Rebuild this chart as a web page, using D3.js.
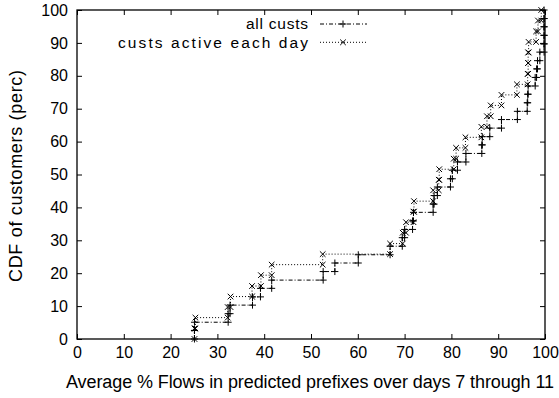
<!DOCTYPE html>
<html>
<head>
<meta charset="utf-8">
<script src="https://cdn.jsdelivr.net/npm/d3@7"></script>
<style>
  body { margin: 0; background: #fff; }
  text { font-family: "Liberation Sans", Arial, Helvetica, sans-serif; }
</style>
</head>
<body>
<script>
// x values of each CDF step
const xAll = [25.1, 25.1, 32.3, 32.7, 37.5, 39.2, 41.6, 52.6, 55.1, 60.1, 66.9, 69.5, 70.0, 71.7, 71.9,
    76.1, 76.3, 77.0, 79.8, 80.2, 81.3, 83.1, 86.5, 86.6, 88.2, 90.7, 94.1, 96.2, 96.3, 96.4,
    97.9, 98.2, 98.4, 98.9, 99.8, 99.8, 99.8, 99.8, 99.8];
const yAll = [2.6, 5.1, 7.7, 10.3, 12.8, 15.4, 17.9, 20.5, 23.1, 25.6, 28.2, 30.8, 33.3, 35.9, 38.5,
    41.0, 43.6, 46.2, 48.7, 51.3, 53.8, 56.4, 59.0, 61.5, 64.1, 66.7, 69.2, 71.8, 74.4, 76.9,
    79.5, 82.1, 84.6, 87.2, 89.7, 92.3, 94.9, 97.4, 100];

const xActive = [25.1, 25.3, 32.2, 32.8, 37.4, 39.3, 41.6, 52.5, 66.9, 69.6, 70.3, 71.9, 72.0, 76.1, 77.3,
    77.4, 80.5, 81.0, 83.0, 86.4, 87.6, 88.4, 90.7, 94.0, 96.3, 96.4, 96.4, 96.5, 98.1, 98.5, 99.2];
const yActive = [3.2, 6.5, 9.7, 12.9, 16.1, 19.4, 22.6, 25.8, 29.0, 32.3, 35.5, 38.7, 41.9, 45.2, 48.4,
    51.6, 54.8, 58.1, 61.3, 64.5, 67.7, 71.0, 74.2, 77.4, 80.6, 83.9, 87.1, 90.3, 93.5, 96.8, 100];

const ticks = [0, 10, 20, 30, 40, 50, 60, 70, 80, 90, 100];
const seriesNames = ['all custs', 'custs active each day'];

const width = 559, height = 398;
const margin = {left: 77, right: 14, top: 10, bottom: 59};
const fontSize = 16;
const labelSize = 18;
const legendSize = 15.5;

const svg = d3.select('body').append('svg')
    .attr('width', width)
    .attr('height', height);

const x = d3.scaleLinear().domain([0, 100]).range([margin.left, width - margin.right]);
const y = d3.scaleLinear().domain([0, 100]).range([height - margin.bottom, margin.top]);

// 每一级台阶：先水平到下一个 x，再竖直上去
function stepPoints(xs, ys) {
    const pts = [[xs[0], 0]];
    for (let i = 0; i < xs.length; i++) {
        if (i > 0) pts.push([xs[i], ys[i - 1]]);
        pts.push([xs[i], ys[i]]);
    }
    return pts;
}

// axes, ticks pointing inward, mirrored on top/right
const tickLen = 5;
const axB = svg.append('g').attr('transform', `translate(0,${y(0)})`)
    .call(d3.axisBottom(x).tickValues(ticks).tickSizeInner(-tickLen).tickSizeOuter(0).tickPadding(8));
const axL = svg.append('g').attr('transform', `translate(${x(0)},0)`)
    .call(d3.axisLeft(y).tickValues(ticks).tickSizeInner(-tickLen).tickSizeOuter(0).tickPadding(9));
const axT = svg.append('g').attr('transform', `translate(0,${y(100)})`)
    .call(d3.axisTop(x).tickValues(ticks).tickSizeInner(-tickLen).tickSizeOuter(0).tickFormat(''));
const axR = svg.append('g').attr('transform', `translate(${x(100)},0)`)
    .call(d3.axisRight(y).tickValues(ticks).tickSizeInner(-tickLen).tickSizeOuter(0).tickFormat(''));
[axB, axL, axT, axR].forEach(a => {
    a.select('.domain').remove();
    a.selectAll('line').attr('stroke', '#000').attr('stroke-width', 1);
    a.selectAll('text').attr('font-size', fontSize).attr('fill', '#000')
        .attr('font-family', '"Liberation Sans", Arial, sans-serif');
});

svg.append('rect')
    .attr('x', x(0)).attr('y', y(100))
    .attr('width', x(100) - x(0)).attr('height', y(0) - y(100))
    .attr('fill', 'none').attr('stroke', '#000').attr('stroke-width', 1.3);

// axis titles (gnuplot 的字距比浏览器宽，用 textLength 拉开)
svg.append('text')
    .attr('x', 310).attr('y', 388)
    .attr('text-anchor', 'middle').attr('font-size', labelSize)
    .attr('textLength', 488).attr('lengthAdjust', 'spacing')
    .text('Average % Flows in predicted prefixes over days 7 through 11');
svg.append('text')
    .attr('transform', `translate(22,176) rotate(-90)`)
    .attr('text-anchor', 'middle').attr('font-size', labelSize)
    .attr('textLength', 212).attr('lengthAdjust', 'spacing')
    .text('CDF of customers (perc)');

function plus(g, px, py, s) {
    g.append('path').attr('d', `M${px - s},${py}H${px + s}M${px},${py - s}V${py + s}`)
        .attr('stroke', '#000').attr('stroke-width', 1).attr('fill', 'none');
}
function cross(g, px, py, s) {
    g.append('path').attr('d', `M${px - s},${py - s}L${px + s},${py + s}M${px - s},${py + s}L${px + s},${py - s}`)
        .attr('stroke', '#000').attr('stroke-width', 1).attr('fill', 'none');
}

const series = [
    {name: seriesNames[0], pts: stepPoints(xAll, yAll), dash: '4,2,1,2', mark: plus, size: 3.5, len: 62},
    {name: seriesNames[1], pts: stepPoints(xActive, yActive), dash: '1,2', mark: cross, size: 2.8, len: 190}
];

const line = d3.line().x(d => x(d[0])).y(d => y(d[1]));

series.forEach((s, i) => {
    const g = svg.append('g');
    g.append('path').datum(s.pts)
        .attr('d', line)
        .attr('fill', 'none').attr('stroke', '#000').attr('stroke-width', 1)
        .attr('stroke-dasharray', s.dash);
    s.pts.forEach(p => s.mark(g, x(p[0]), y(p[1]), s.size));

    // legend
    const ly = 24 + i * 18.3;
    svg.append('text').attr('x', 308).attr('y', ly).attr('dy', '0.35em')
        .attr('text-anchor', 'end').attr('font-size', legendSize)
        .attr('textLength', s.len).attr('lengthAdjust', 'spacing')
        .text(s.name);
    svg.append('line').attr('x1', 320).attr('x2', 367).attr('y1', ly).attr('y2', ly)
        .attr('stroke', '#000').attr('stroke-width', 1).attr('stroke-dasharray', s.dash);
    s.mark(svg, 343, ly, s.size);
});
</script>
</body>
</html>
